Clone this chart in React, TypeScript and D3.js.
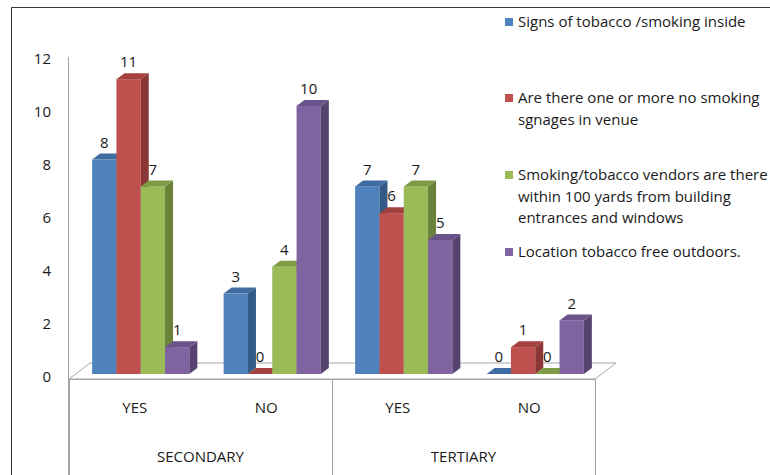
import React from "react";
import * as d3 from "d3";

const subCategories = ["YES", "NO", "YES", "NO"];
const groupLabels = ["SECONDARY", "TERTIARY"];
const seriesNames = [
  ["Signs of tobacco /smoking inside"],
  ["Are there one or more no smoking", "sgnages in venue"],
  ["Smoking/tobacco vendors are there", "within 100 yards from building", "entrances and windows"],
  ["Location tobacco free outdoors."],
];
const signsInside = [8, 3, 7, 0];
const noSmokingSignage = [11, 0, 6, 1];
const vendorsNearby = [7, 4, 7, 0];
const tobaccoFreeOutdoors = [1, 10, 5, 2];
const seriesValues = [signsInside, noSmokingSignage, vendorsNearby, tobaccoFreeOutdoors];
const seriesColors = ["#4F81BD", "#C0504D", "#9BBB59", "#8064A2"];
const topColors = ["#3E6CA3", "#A4403D", "#7E9C45", "#6A528A"];
const sideColors = ["#345A88", "#8A3735", "#6A823A", "#57436F"];
const yTicks = [0, 2, 4, 6, 8, 10, 12];

const FONT = "'Open Sans', Lato, sans-serif";
const FS = 15;

export default function App() {
  const W = 770, H = 475;
  const floorL = 69, floorR = 595, floorY = 379, fdx = 21, fdy = 16;
  const idx = d3.range(subCategories.length);
  const xBars = d3.scaleBand<number>().domain(idx).range([75, 601]);
  const xCat = d3.scaleBand<number>().domain(idx).range([floorL, floorR]);
  const xGroup = d3.scaleBand<number>().domain([0, 1]).range([floorL, floorR]);
  const y = d3.scaleLinear().domain([0, 12]).range([374, 52.4]);
  const yAxis = d3.scaleLinear().domain([0, 12]).range([377, 59]);
  const barW = 24.3, dx = 8, dy = 6;
  const base = y(0);
  const gray = "#A6A6A6";

  const bars: any[] = [];
  const labels: any[] = [];
  idx.forEach((i) => {
    const c = xBars(i)! + xBars.bandwidth() / 2;
    seriesValues.forEach((vals, s) => {
      const v = vals[i];
      const x0 = c - 2 * barW + s * barW;
      const yt = y(v);
      bars.push(
        <g key={`b${i}-${s}`}>
          {v > 0 && (
            <rect x={x0} y={yt} width={barW} height={base - yt} fill={seriesColors[s]} />
          )}
          {v > 0 && (
            <polygon
              points={`${x0 + barW},${yt} ${x0 + barW + dx},${yt - dy} ${x0 + barW + dx},${base - dy} ${x0 + barW},${base}`}
              fill={sideColors[s]}
            />
          )}
          <polygon
            points={`${x0},${yt} ${x0 + barW},${yt} ${x0 + barW + dx},${yt - dy} ${x0 + dx},${yt - dy}`}
            fill={topColors[s]}
          />
        </g>
      );
      labels.push(
        <text key={`l${i}-${s}`} x={x0 + barW / 2} y={yt - 17} dy="0.35em" textAnchor="middle"
          fontSize={FS} fill="#1a1a1a" fontFamily={FONT}>{v}</text>
      );
    });
  });

  const legendY = [[22], [98, 120], [175, 197, 218], [252]];

  return (
    <svg width={W} height={H} style={{ position: "absolute", left: 0, top: 0, background: "#fff" }}>
      <rect x={0} y={0} width={W} height={H} fill="#fff" />
      <rect x={11.5} y={7.5} width={800} height={600} fill="none" stroke="#3a3a3a" strokeWidth={1} />
      <polygon
        points={`${floorL},${floorY} ${floorL + fdx},${floorY - fdy} ${floorR + fdx},${floorY - fdy} ${floorR},${floorY}`}
        fill="#fff" stroke={gray} strokeWidth={1}
      />
      <line x1={68.5} x2={68.5} y1={57} y2={H} stroke={gray} />
      {yTicks.map((t) => (
        <text key={t} x={51} y={yAxis(t)} dy="0.35em" textAnchor="end" fontSize={FS}
          fill="#1a1a1a" fontFamily={FONT}>{t}</text>
      ))}
      {bars}
      {labels}
      <line x1={floorL} x2={floorR} y1={floorY + 0.5} y2={floorY + 0.5} stroke={gray} />
      {[floorL, xGroup(1)!, floorR].map((xv, k) => (
        <line key={k} x1={Math.round(xv) + 0.5} x2={Math.round(xv) + 0.5} y1={floorY} y2={H} stroke={gray} />
      ))}
      {idx.map((i) => (
        <text key={`c${i}`} x={xCat(i)! + xCat.bandwidth() / 2} y={408} dy="0.35em" textAnchor="middle"
          fontSize={FS} fill="#1a1a1a" fontFamily={FONT}>{subCategories[i]}</text>
      ))}
      {groupLabels.map((g, k) => (
        <text key={g} x={xGroup(k)! + xGroup.bandwidth() / 2} y={457} dy="0.35em" textAnchor="middle"
          fontSize={FS} fill="#1a1a1a" fontFamily={FONT}>{g}</text>
      ))}
      {seriesNames.map((lines, s) => (
        <g key={`lg${s}`}>
          <rect x={505} y={legendY[s][0] - 4} width={8} height={8} fill={seriesColors[s]} />
          {lines.map((ln, j) => (
            <text key={j} x={518} y={legendY[s][j]} dy="0.35em" fontSize={FS} fill="#1a1a1a"
              fontFamily={FONT}>{ln}</text>
          ))}
        </g>
      ))}
    </svg>
  );
}
